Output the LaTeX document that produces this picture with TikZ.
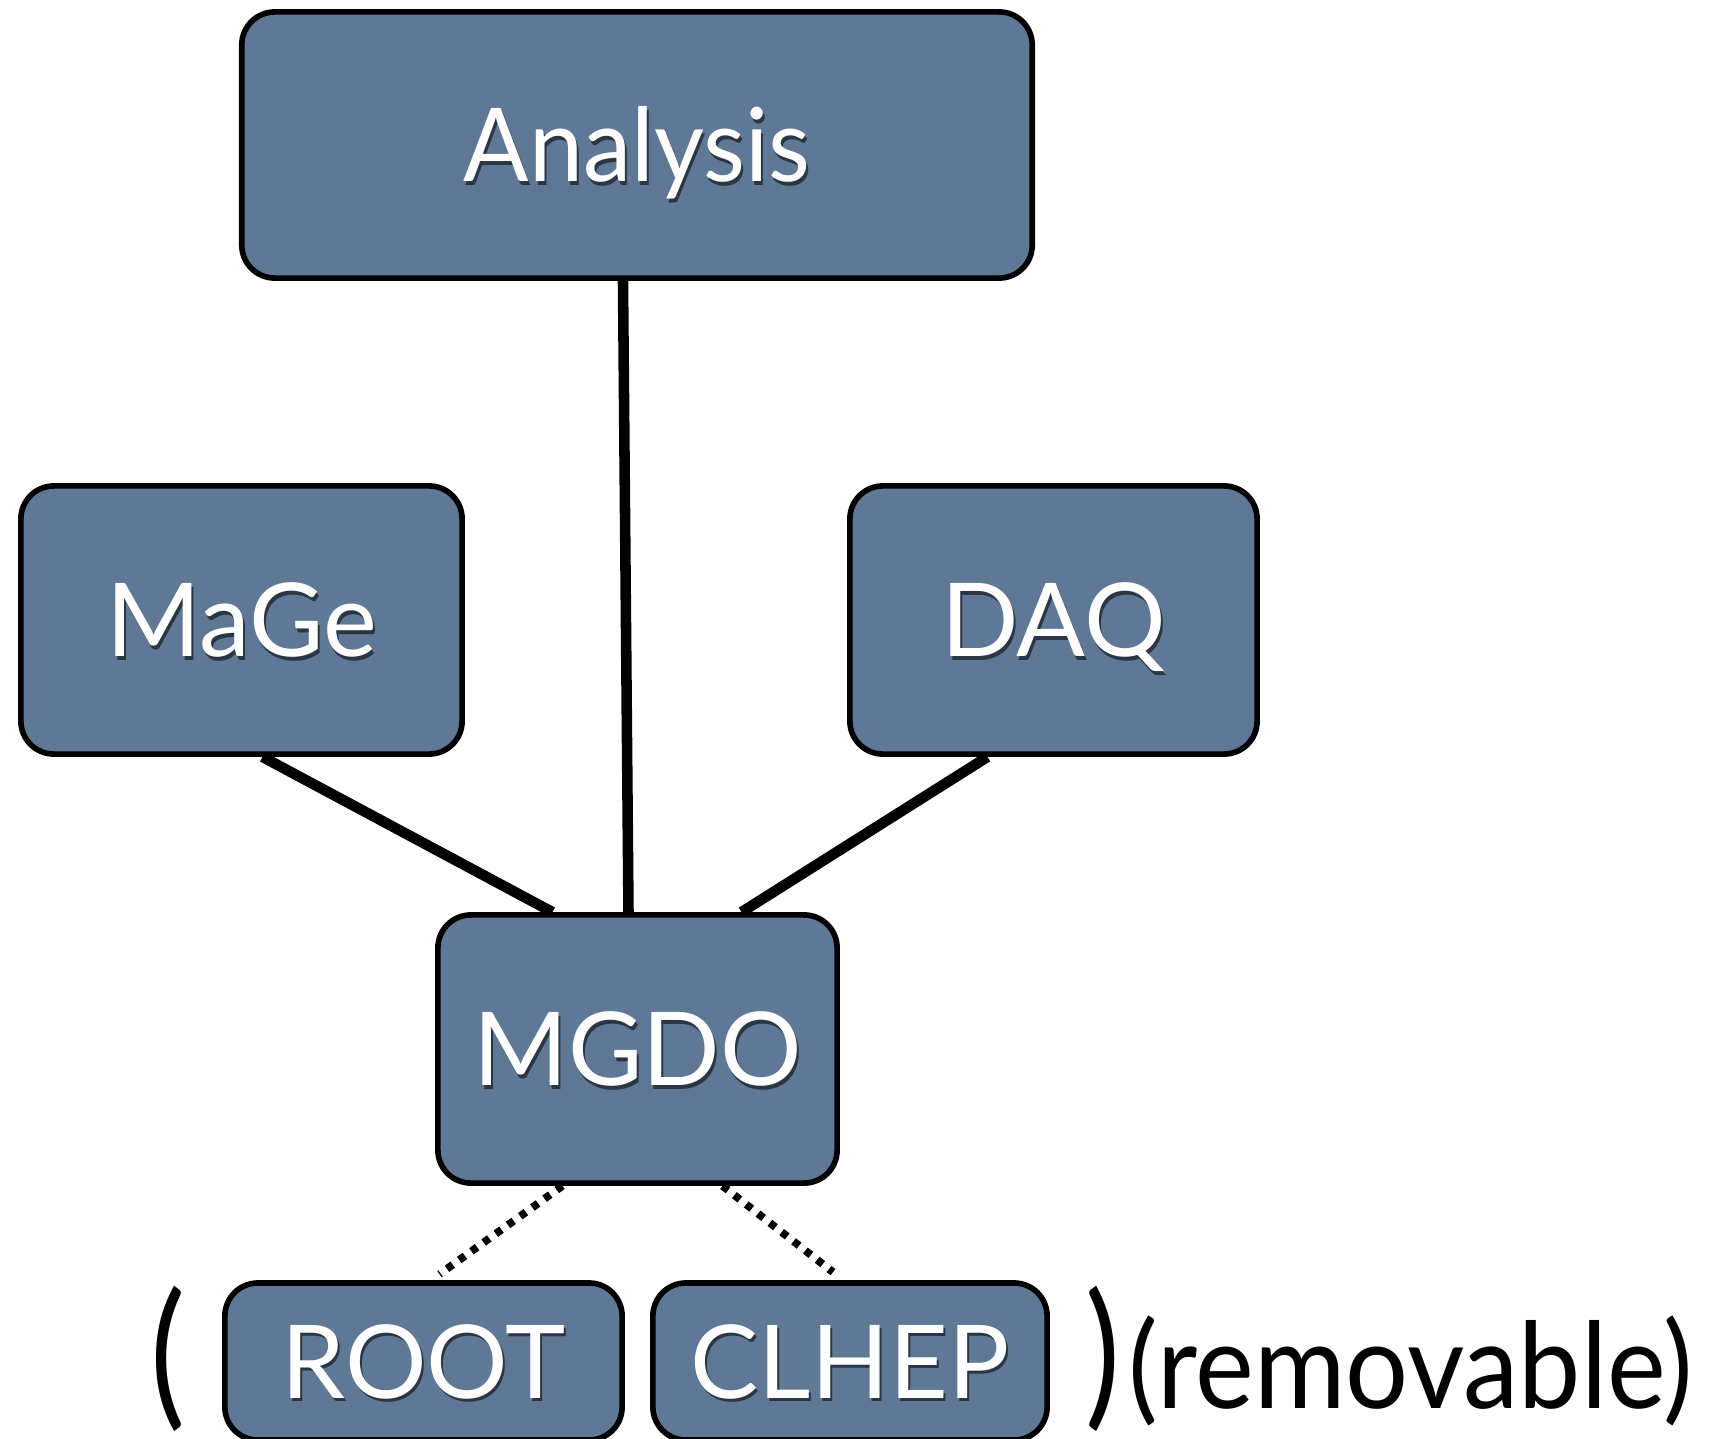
\documentclass[tikz,border=0pt]{standalone}
\usepackage{fontspec}
\setmainfont{Lato}
\usepackage{xcolor}
\usepackage{tikz}
\usetikzlibrary{calc}
\definecolor{slate}{HTML}{5E7896}
\newcommand{\shtxt}[1]{\makebox[0pt][l]{\hspace{0.02cm}\raisebox{-0.035cm}{\color{slate!45!black}#1}}#1}

\begin{document}
\begin{tikzpicture}[x=0.01cm,y=-0.01cm,
  box/.style={draw=black,line width=1.6pt,fill=slate,rounded corners=0.33cm,text=white,inner sep=0pt,
    text height=0.73cm,text depth=0pt,font=\fontsize{29}{34}\selectfont},
  link/.style={line width=3pt},
  optlink/.style={line width=2.2pt,dash pattern=on 0.07cm off 0.08cm}]
\useasboundingbox (0,0) rectangle (1714,1439);
\clip (0,0) rectangle (1714,1439);

\node[box,minimum width=7.9cm,minimum height=2.66cm] (ana) at (637,145) {\shtxt{\scalebox{0.95}[1]{Analysis}}};
\node[box,minimum width=4.41cm,minimum height=2.68cm] (mage) at (241.5,620) {\shtxt{MaGe}};
\node[box,minimum width=4.07cm,minimum height=2.68cm] (daq) at (1053.5,620) {\shtxt{DAQ}};
\node[box,minimum width=3.99cm,minimum height=2.68cm] (mgdo) at (637.5,1049) {\shtxt{MGDO}};
\node[box,minimum width=3.97cm,minimum height=1.57cm] (root) at (423.5,1361.5) {\shtxt{ROOT}};
\node[box,minimum width=3.94cm,minimum height=1.57cm] (clhep) at (850,1361.5) {\shtxt{CLHEP}};

% solid links up to MGDO
\draw[link] ([xshift=-0.14cm]ana.south) -- ([xshift=-0.09cm]mgdo.north);
\draw[link] ([xshift=0.21cm]mage.south) -- ([xshift=-0.85cm]mgdo.north);
\draw[link] ([xshift=-0.66cm]daq.south) -- ([xshift=1.04cm]mgdo.north);

% dotted links down
\draw[optlink] ([xshift=-0.75cm]mgdo.south) -- ([xshift=0.16cm,yshift=0.06cm]root.north);
\draw[optlink] ([xshift=0.85cm]mgdo.south) -- ([xshift=-0.17cm,yshift=0.08cm]clhep.north);

\node[inner sep=0pt,font=\fontsize{44}{48}\selectfont] (lpar) at (168,1359) {\scalebox{0.85}[1.02]{(}};
\node[inner sep=0pt,font=\fontsize{44}{48}\selectfont] (rpar) at (1103,1359) {\scalebox{0.85}[1.02]{)}};
\node[inner sep=0pt,anchor=base west,font=\fontsize{34}{40}\selectfont] (note) at (1128,1408) {\scalebox{0.93}[1]{(removable)}};
\end{tikzpicture}
\end{document}
